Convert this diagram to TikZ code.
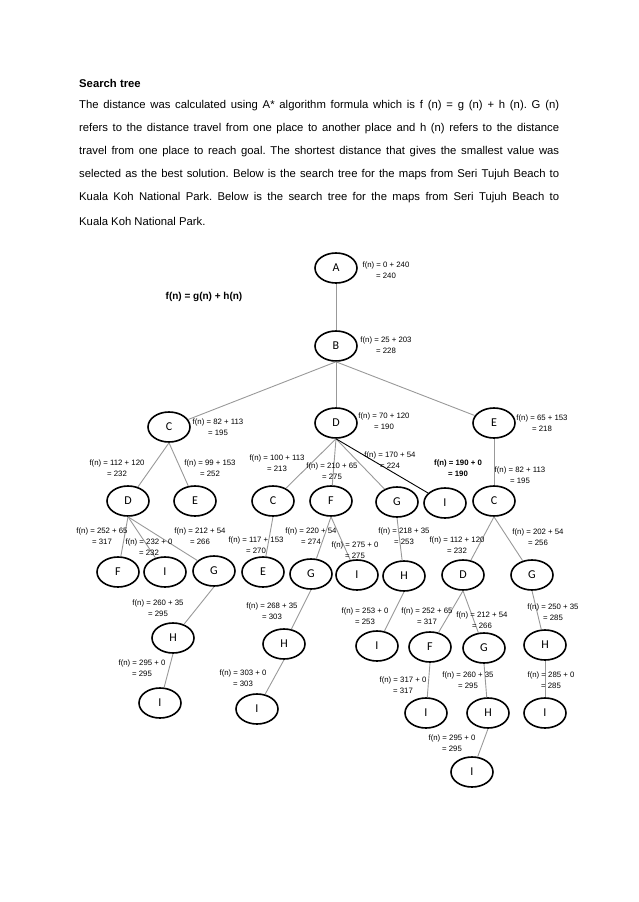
\documentclass[tikz,border=0pt]{standalone}
\usepackage{fontspec}
\setmainfont{Liberation Sans}
\newfontfamily\letterfont{Carlito}
\usetikzlibrary{shapes.geometric}
\frenchspacing

\begin{document}
\begin{tikzpicture}[x=1pt, y=-1pt,
    st/.style={ellipse, draw, line width=1.6pt, minimum width=42pt, minimum height=30pt,
               inner sep=0pt, font=\letterfont\fontsize{12}{12}\selectfont},
    fn/.style={align=center, inner sep=0pt, font=\fontsize{7.8}{11}\selectfont},
    fnb/.style={fn, font=\bfseries\fontsize{7.8}{11}\selectfont},
    edge/.style={draw=black!40, line width=0.9pt},
    para/.style={anchor=west, inner sep=0pt, font=\fontsize{11.3}{13}\selectfont}]
\useasboundingbox (0,0) rectangle (638,902);

\node[para, font=\bfseries\fontsize{11.3}{13}\selectfont] (ttl) at (79,83) {Search tree};
\node[para] (t1) at (79,106) {\makebox[480pt][s]{The distance was calculated using A* algorithm formula which is f (n) = g (n) + h (n). G (n)}};
\node[para] (t2) at (79,129) {\makebox[480pt][s]{refers to the distance travel from one place to another place and h (n) refers to the distance}};
\node[para] (t3) at (79,152) {\makebox[480pt][s]{travel from one place to reach goal. The shortest distance that gives the smallest value was}};
\node[para] (t4) at (79,175) {\makebox[480pt][s]{selected as the best solution. Below is the search tree for the maps from Seri Tujuh Beach to}};
\node[para] (t5) at (79,198) {\makebox[480pt][s]{Kuala Koh National Park. Below is the search tree for the maps from Seri Tujuh Beach to}};
\node[para] (t6) at (79,221) {Kuala Koh National Park.};

\node[inner sep=0pt, font=\bfseries\fontsize{10}{12}\selectfont] (form) at (204,297) {f(n) = g(n) + h(n)};

\node[st] (a) at (336,268) {A};
\node[st] (b) at (336,346) {B};
\node[st] (c1) at (169,427) {C};
\node[st] (d1) at (336,423) {D};
\node[st] (e1) at (494,423) {E};
\node[st] (d2) at (128,501) {D};
\node[st] (e2) at (195,501) {E};
\node[st] (c2) at (273,501) {C};
\node[st] (f2) at (331,501) {F};
\node[st] (g2) at (397,502) {G};
\node[st] (i2) at (445,503) {I};
\node[st] (c3) at (494,501) {C};
\node[st] (f3) at (118,572) {F};
\node[st] (i3) at (165,572) {I};
\node[st] (g3) at (214,571) {G};
\node[st] (e3) at (263,572) {E};
\node[st] (g4) at (311,574) {G};
\node[st] (i4) at (357,575) {I};
\node[st] (h3) at (404,576) {H};
\node[st] (d3) at (463,575) {D};
\node[st] (g5) at (532,575) {G};
\node[st] (h4) at (173,638) {H};
\node[st] (h5) at (284,644) {H};
\node[st] (i5) at (377,646) {I};
\node[st] (f4) at (430,647) {F};
\node[st] (g6) at (484,648) {G};
\node[st] (h6) at (545,645) {H};
\node[st] (i6) at (160,703) {I};
\node[st] (i7) at (257,709) {I};
\node[st] (i8) at (426,713) {I};
\node[st] (h7) at (488,713) {H};
\node[st] (i9) at (545,713) {I};
\node[st] (i10) at (472,772) {I};

\foreach \p/\c in {a/b, b/c1, b/d1, b/e1, c1/d2, c1/e2, d1/c2, d1/f2, d1/g2, e1/c3,
                   d2/f3, d2/i3, d2/g3, c2/e3, f2/g4, f2/i4, g2/h3, c3/d3, c3/g5,
                   g3/h4, g4/h5, h3/i5, d3/f4, d3/g6, g5/h6,
                   h4/i6, h5/i7, f4/i8, g6/h7, h6/i9, h7/i10}
  \draw[edge] (\p.south) -- (\c);
\draw[line width=0.9pt] (d1.south) -- (i2);

\node[fn] (fa) at (386,270.5) {f(n) = 0 + 240\\= 240};
\node[fn] (fb) at (386,345.5) {f(n) = 25 + 203\\= 228};
\node[fn] (fc1) at (218,427.5) {f(n) = 82 + 113\\= 195};
\node[fn] (fd1) at (384,421.5) {f(n) = 70 + 120\\= 190};
\node[fn] (fe1) at (542,423.5) {f(n) = 65 + 153\\= 218};
\node[fn] (fd2) at (117,468.5) {f(n) = 112 + 120\\= 232};
\node[fn] (fe2) at (210,468.5) {f(n) = 99 + 153\\= 252};
\node[fn] (fc2) at (277,463.5) {f(n) = 100 + 113\\= 213};
\node[fn] (ff2) at (332,471.5) {f(n) = 210 + 65\\= 275};
\node[fn] (fg2) at (390,460.5) {f(n) = 170 + 54\\= 224};
\node[fnb] (fi2) at (458,468) {f(n) = 190 + 0\\= 190};
\node[fn] (fc3) at (520,475) {f(n) = 82 + 113\\= 195};
\node[fn] (ff3) at (102,536) {f(n) = 252 + 65\\= 317};
\node[fn] (fi3) at (149,547) {f(n) = 232 + 0\\= 232};
\node[fn] (fg3) at (200,536) {f(n) = 212 + 54\\= 266};
\node[fn] (fe3) at (256,545) {f(n) = 117 + 153\\= 270};
\node[fn] (fg4) at (311,536) {f(n) = 220 + 54\\= 274};
\node[fn] (fi4) at (355,550) {f(n) = 275 + 0\\= 275};
\node[fn] (fh3) at (404,536) {f(n) = 218 + 35\\= 253};
\node[fn] (fd3) at (457,545) {f(n) = 112 + 120\\= 232};
\node[fn] (fg5) at (538,537.5) {f(n) = 202 + 54\\= 256};
\node[fn] (fh4) at (158,608.5) {f(n) = 260 + 35\\= 295};
\node[fn] (fh5) at (272,611.5) {f(n) = 268 + 35\\= 303};
\node[fn] (fi5) at (365,616) {f(n) = 253 + 0\\= 253};
\node[fn] (ff4) at (427,616) {f(n) = 252 + 65\\= 317};
\node[fn] (fg6) at (482,620) {f(n) = 212 + 54\\= 266};
\node[fn] (fh6) at (553,612.5) {f(n) = 250 + 35\\= 285};
\node[fn] (fi6) at (142,668) {f(n) = 295 + 0\\= 295};
\node[fn] (fi7) at (243,678.5) {f(n) = 303 + 0\\= 303};
\node[fn] (fi8) at (403,685) {f(n) = 317 + 0\\= 317};
\node[fn] (fh7) at (468,680.5) {f(n) = 260 + 35\\= 295};
\node[fn] (fi9) at (551,680.5) {f(n) = 285 + 0\\= 285};
\node[fn] (fi10) at (452,743) {f(n) = 295 + 0\\= 295};
\end{tikzpicture}
\end{document}
